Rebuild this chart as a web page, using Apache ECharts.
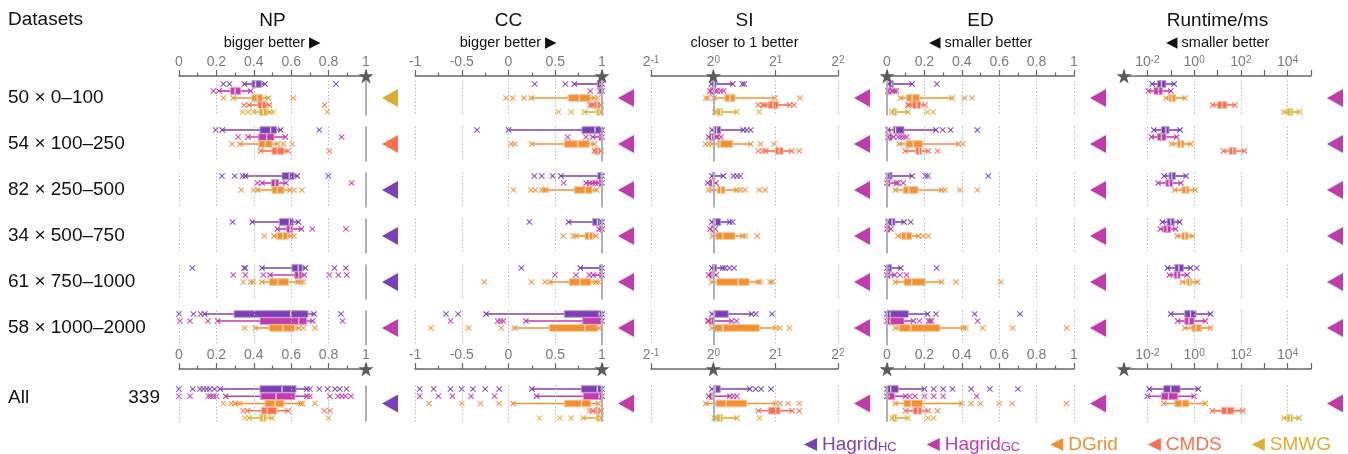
<!DOCTYPE html>
<html><head><meta charset="utf-8">
<script src="https://cdn.jsdelivr.net/npm/echarts@6/dist/echarts.min.js"></script>
<style>html,body{margin:0;padding:0;background:#fff}#c{width:1348px;height:454px}</style>
</head><body><div id="c"></div>
<script>
// ---------- categories ----------
const ROWS = ['50 × 0–100', '54 × 100–250', '82 × 250–500', '34 × 500–750', '61 × 750–1000', '58 × 1000–2000'];
const ALL_LABEL = 'All';
const ALL_COUNT = '339';
const METHODS = ['Hagrid_HC', 'Hagrid_GC', 'DGrid', 'CMDS', 'SMWG'];
const COLORS = ['#7b3fb6', '#c23bab', '#f39132', '#ff6e4c', '#dfae2e'];

// ---------- tick labels / gridline ticks ----------
const NP_TICKS = [0, 0.2, 0.4, 0.6, 0.8];
const CC_TICKS = [-1, -0.5, 0, 0.5];
const SI_TICKS = [0.5, 2, 4];
const ED_TICKS = [0.2, 0.4, 0.6, 0.8, 1];
const RT_TICKS = [0.01, 1, 100, 10000];

// best method per row (index into METHODS), rows 1..6 then All
const BEST_NP = [4, 3, 0, 0, 0, 1, 0];
const BEST_CC = [1, 1, 1, 1, 1, 1, 1];
const BEST_SI = [1, 1, 1, 1, 1, 1, 1];
const BEST_ED = [1, 1, 1, 1, 1, 1, 1];
const BEST_RT = [1, 1, 1, 1, 1, 1, 1];

// ---------- NP: [whiskerLow, q1, median, q3, whiskerHigh] per row (6 rows + All) ----------
const NP_BOX_HC = [[0.35,0.39,0.41,0.44,0.46],[0.232,0.433,0.49,0.522,0.544],[0.355,0.551,0.59,0.615,0.633],[0.392,0.537,0.59,0.611,0.638],[0.444,0.604,0.638,0.658,0.676],[0.137,0.294,0.597,0.69,0.722],[0.22,0.433,0.551,0.626,0.684]];
const NP_OUT_HC = [[0.237,0.27,0.84],[0.196,0.75],[0.23,0.298,0.34,0.799],[0.287],[0.071,0.348,0.355,0.831,0.893],[0.0,0.077,0.116,0.866],[0.0,0.073,0.112,0.13,0.148,0.165,0.19,0.7,0.75,0.795,0.834,0.86,0.896]];
const NP_BOX_GC = [[0.214,0.276,0.30,0.33,0.383],[0.369,0.426,0.469,0.508,0.569],[0.444,0.494,0.515,0.533,0.572],[0.526,0.576,0.594,0.608,0.654],[0.487,0.619,0.64,0.654,0.67],[0.207,0.433,0.64,0.683,0.715],[0.25,0.437,0.519,0.62,0.684]];
const NP_OUT_GC = [[0.184],[0.316,0.87],[0.419,0.923],[0.713,0.893],[0.29,0.355,0.451,0.804,0.852,0.897],[0.005,0.059,0.155,0.875],[0.0,0.059,0.157,0.17,0.185,0.2,0.7,0.807,0.85,0.87,0.89,0.92]];
const NP_BOX_DG = [[0.29,0.39,0.419,0.446,0.478],[0.326,0.426,0.462,0.497,0.526],[0.42,0.497,0.526,0.561,0.594],[0.508,0.526,0.554,0.579,0.597],[0.444,0.483,0.528,0.586,0.636],[0.408,0.483,0.558,0.619,0.642],[0.3,0.46,0.513,0.561,0.65]];
const NP_OUT_DG = [[0.237,0.611],[0.283,0.558,0.606],[0.333,0.40,0.615,0.658],[0.456,0.615],[0.344,0.383,0.397,0.651,0.665],[0.351,0.665,0.727],[0.237,0.28,0.3,0.325,0.66,0.727]];
const NP_BOX_CM = [[0.374,0.422,0.444,0.465,0.483],[0.437,0.497,0.526,0.561,0.583],null,null,null,null,[0.365,0.442,0.472,0.522,0.583]];
const NP_OUT_CM = [[0.348,0.779],[0.804],[],[],[],[],[0.344,0.777,0.807]];
const NP_BOX_SM = [[0.40,0.43,0.45,0.47,0.487],null,null,null,null,null,[0.376,0.433,0.45,0.465,0.497]];
const NP_OUT_SM = [[0.34,0.37,0.504,0.793],[],[],[],[],[],[0.353,0.8]];

// ---------- CC ----------
const CC_BOX_HC = [[0.704,0.95,0.98,0.99,1.0],[0.0,0.786,0.925,0.98,1.0],[0.561,0.954,0.985,1.0,1.0],[0.643,0.9,0.95,0.971,1.0],[0.768,0.98,0.99,1.0,1.0],[-0.24,0.597,0.97,0.982,1.0],[0.25,0.78,0.95,0.985,1.0]];
const CC_OUT_HC = [[0.28,0.608],[-0.337],[0.276,0.355,0.472],[0.223],[0.137],[-0.668,-0.54],[-0.95,-0.8,-0.62,-0.5,-0.38,-0.25,-0.1]];
const CC_BOX_GC = [[0.98,0.985,0.995,1.0,1.0],[0.9,0.97,0.99,1.0,1.0],[0.83,0.97,0.99,1.0,1.0],[0.97,0.98,0.99,1.0,1.0],[0.907,0.98,0.99,1.0,1.0],[0.187,0.793,0.99,1.0,1.0],[0.3,0.8,0.97,1.0,1.0]];
const CC_OUT_GC = [[0.875],[0.633,0.829],[0.59,0.87,0.9,0.93,0.96],[],[0.497,0.722,0.865],[-0.619,-0.116,-0.085,-0.055],[-0.95,-0.75,-0.6,-0.4,-0.15]];
const CC_BOX_DG = [[0.244,0.643,0.758,0.875,0.918],[0.248,0.597,0.74,0.864,0.918],[0.401,0.708,0.822,0.893,0.943],[0.722,0.818,0.864,0.9,0.936],[0.444,0.651,0.765,0.882,0.936],[0.062,0.437,0.815,0.947,0.97],[0.05,0.6,0.78,0.88,0.96]];
const CC_OUT_DG = [[-0.027,0.045,0.166,0.953],[0.03,0.066],[0.052,0.24,0.287,0.358,0.383],[0.586,0.693],[-0.258,0.244,0.39,0.965],[-0.829,-0.426,-0.077],[-0.85,-0.5,-0.3,-0.1]];
const CC_BOX_CM = [[0.89,0.918,0.945,0.97,0.99],[0.918,0.929,0.955,0.97,0.99],null,null,null,null,[0.9,0.93,0.95,0.97,0.99]];
const CC_OUT_CM = [[0.87,0.905],[0.94],[],[],[],[],[0.87]];
const CC_BOX_SM = [[0.815,0.943,0.97,0.979,0.99],null,null,null,null,null,[0.8,0.94,0.97,0.98,0.99]];
const CC_OUT_SM = [[0.533,0.672],[],[],[],[],[],[0.33,0.55,0.67]];

// ---------- SI ----------
const SI_BOX_HC = [[0.98,0.99,1.01,1.03,1.24],[0.985,1.0,1.038,1.085,1.395],[0.985,0.99,1.0,1.018,1.117],[0.985,0.995,1.02,1.085,1.2],[0.985,0.99,1.005,1.038,1.11],[0.985,1.0,1.015,1.18,1.53],[0.985,1.0,1.02,1.08,1.5]];
const SI_OUT_HC = [[1.38,1.41],[1.448,1.515],[1.25,1.3,1.35],[1.24],[1.14,1.195,1.26],[1.605,1.92],[1.6,1.7,1.9]];
const SI_BOX_GC = [[0.964,0.964,0.985,1.0,1.02],[0.95,0.957,0.98,1.0,1.03],[0.94,0.96,0.99,1.01,1.03],[0.965,0.975,0.99,1.0,1.02],[0.95,0.96,0.985,1.0,1.03],[0.95,0.955,0.975,1.0,1.226],[0.95,0.96,0.985,1.0,1.2]];
const SI_OUT_GC = [[1.045,1.085,1.12],[1.05,1.09],[],[],[],[0.94,1.296],[1.25,1.3]];
const SI_BOX_DG = [[1.007,1.138,1.203,1.272,1.98],[0.985,1.05,1.077,1.24,1.515],[0.985,1.045,1.085,1.138,1.296],[0.99,1.03,1.11,1.272,1.385],[0.985,1.037,1.32,1.49,1.647],[0.985,1.007,1.11,1.667,2.0],[0.92,1.03,1.15,1.45,2.0]];
const SI_OUT_DG = [[0.92,0.94,2.62],[0.915,0.95,1.69,1.97],[0.95,1.35,1.42,1.667,1.78],[1.427,1.63],[1.69,1.88,1.93],[2.1,2.33],[2.1,2.3,2.6]];
const SI_BOX_CM = [[1.76,1.84,1.945,2.056,2.34],[1.79,2.0,2.08,2.17,2.39],null,null,null,null,[1.65,1.85,2.0,2.1,2.4]];
const SI_OUT_CM = [[1.647,1.729,2.45],[1.647,1.74,2.6],[],[],[],[],[2.6]];
const SI_BOX_SM = [[1.014,1.045,1.085,1.11,1.296],null,null,null,null,null,[1.01,1.04,1.08,1.11,1.3]];
const SI_OUT_SM = [[1.667],[],[],[],[],[],[1.67]];

// ---------- ED ----------
const ED_BOX_HC = [[0.01,0.012,0.025,0.034,0.134],[0.005,0.034,0.046,0.091,0.262],[0.005,0.008,0.015,0.027,0.134],[0.005,0.01,0.027,0.043,0.091],[0.0,0.005,0.01,0.025,0.073],[0.0,0.002,0.016,0.114,0.217],[0.0,0.005,0.02,0.06,0.2]];
const ED_OUT_HC = [[0.267],[0.298,0.34,0.483],[0.205,0.219,0.542],[0.127],[0.266],[0.262,0.469,0.711],[0.25,0.3,0.35,0.45,0.55,0.7]];
const ED_BOX_GC = [[0.005,0.008,0.015,0.022,0.03],[0.005,0.008,0.012,0.025,0.035],[0.0,0.002,0.008,0.016,0.05],[0.0,0.002,0.006,0.012,0.02],[0.0,0.002,0.008,0.016,0.04],[0.0,0.002,0.016,0.091,0.141],[0.0,0.003,0.01,0.04,0.1]];
const ED_OUT_GC = [[0.04,0.05],[0.06,0.075,0.09,0.105],[0.06,0.087],[],[0.07,0.105],[0.173,0.221,0.23,0.239,0.485],[0.12,0.15,0.2,0.25,0.3,0.48]];
const ED_BOX_DG = [[0.073,0.105,0.134,0.173,0.348],[0.066,0.102,0.141,0.19,0.381],[0.045,0.087,0.116,0.166,0.292],[0.059,0.078,0.102,0.132,0.168],[0.045,0.091,0.132,0.205,0.292],[0.045,0.066,0.127,0.283,0.408],[0.045,0.09,0.13,0.19,0.4]];
const ED_OUT_DG = [[0.415,0.455],[0.405],[0.31,0.39,0.483],[0.194,0.221],[0.369,0.608],[0.422,0.512,0.672,0.961],[0.45,0.5,0.6,0.67,0.96]];
const ED_BOX_CM = [[0.112,0.137,0.159,0.18,0.203],[0.098,0.155,0.173,0.185,0.221],null,null,null,null,[0.1,0.14,0.165,0.185,0.22]];
const ED_OUT_CM = [[0.12],[0.27],[],[],[],[],[0.27]];
const ED_BOX_SM = [[0.027,0.03,0.04,0.052,0.112],null,null,null,null,null,[0.027,0.03,0.04,0.052,0.11]];
const ED_OUT_SM = [[0.216,0.248],[],[],[],[],[],[0.22,0.25]];

// ---------- Runtime (ms) ----------
const RT_BOX_HC = [[0.016,0.027,0.04,0.062,0.14],[0.019,0.04,0.062,0.085,0.25],[0.052,0.085,0.11,0.16,0.45],[0.044,0.07,0.1,0.14,0.24],[0.072,0.15,0.22,0.35,0.7],[0.1,0.4,0.7,1.2,5],[0.012,0.05,0.1,0.25,1.5]];
const RT_OUT_HC = [[],[],[],[],[1.3],[],[]];
const RT_BOX_GC = [[0.011,0.019,0.03,0.044,0.1],[0.015,0.027,0.04,0.062,0.18],[0.029,0.062,0.085,0.12,0.27],[0.036,0.05,0.07,0.1,0.16],[0.088,0.14,0.19,0.25,0.5],[0.2,0.4,0.6,1.0,3],[0.01,0.04,0.08,0.2,1]];
const RT_OUT_GC = [[],[],[],[],[],[],[]];
const RT_BOX_DG = [[0.062,0.085,0.11,0.16,0.4],[0.11,0.19,0.27,0.37,0.72],[0.15,0.3,0.45,0.6,1.1],[0.19,0.3,0.4,0.55,0.85],[0.32,0.5,0.65,0.8,1.4],[0.4,0.8,1.2,2,5],[0.05,0.15,0.3,0.6,3]];
const RT_OUT_DG = [[],[],[],[],[],[],[]];
const RT_BOX_CM = [[6.2,10,16,25,55],[18,32,45,62,140],null,null,null,null,[6,15,25,50,120]];
const RT_OUT_CM = [[],[],[],[],[],[],[]];
const RT_BOX_SM = [[7200,10000,13000,16000,32000],null,null,null,null,null,[7000,10000,13000,16000,30000]];
const RT_OUT_SM = [[],[],[],[],[],[],[]];

// ---------- assemble ----------
const FONT = '"Liberation Sans", Arial, Helvetica, sans-serif';
const METRICS = [
  {name:'NP', sub:'bigger better ▶', left:179, min:0, max:1, interval:0.2, target:1, ticks:NP_TICKS, best:BEST_NP,
   box:[NP_BOX_HC,NP_BOX_GC,NP_BOX_DG,NP_BOX_CM,NP_BOX_SM], out:[NP_OUT_HC,NP_OUT_GC,NP_OUT_DG,NP_OUT_CM,NP_OUT_SM]},
  {name:'CC', sub:'bigger better ▶', left:415, min:-1, max:1, interval:0.5, target:1, ticks:CC_TICKS, best:BEST_CC,
   box:[CC_BOX_HC,CC_BOX_GC,CC_BOX_DG,CC_BOX_CM,CC_BOX_SM], out:[CC_OUT_HC,CC_OUT_GC,CC_OUT_DG,CC_OUT_CM,CC_OUT_SM]},
  {name:'SI', sub:'closer to 1 better', left:651, log:true, base:2, min:0.5, max:4, target:1, ticks:SI_TICKS, best:BEST_SI,
   box:[SI_BOX_HC,SI_BOX_GC,SI_BOX_DG,SI_BOX_CM,SI_BOX_SM], out:[SI_OUT_HC,SI_OUT_GC,SI_OUT_DG,SI_OUT_CM,SI_OUT_SM]},
  {name:'ED', sub:'◀ smaller better', left:887, min:0, max:1, interval:0.2, target:0, ticks:ED_TICKS, best:BEST_ED,
   box:[ED_BOX_HC,ED_BOX_GC,ED_BOX_DG,ED_BOX_CM,ED_BOX_SM], out:[ED_OUT_HC,ED_OUT_GC,ED_OUT_DG,ED_OUT_CM,ED_OUT_SM]},
  {name:'Runtime/ms', sub:'◀ smaller better', left:1124, log:true, base:10, min:0.001, max:100000, target:0.001, ticks:RT_TICKS, best:BEST_RT,
   box:[RT_BOX_HC,RT_BOX_GC,RT_BOX_DG,RT_BOX_CM,RT_BOX_SM], out:[RT_OUT_HC,RT_OUT_GC,RT_OUT_DG,RT_OUT_CM,RT_OUT_SM]}
];
const COL_W = 187;
const ROW_FIRST = [84, 130, 176, 222, 268, 314, 389];  // centre of the first slot in each row panel
const ROW_STEP = [7, 7, 7, 7, 7, 7, 7.25];
const AXIS_Y = [76, 369];
const STAR = 'path://M50,0 L61.8,35.3 L98.9,35.3 L68.9,57.1 L80.4,92.4 L50,70.6 L19.6,92.4 L31.1,57.1 L1.1,35.3 L38.2,35.3 Z';

function lighten(hex, t) {
  const n = parseInt(hex.slice(1), 16);
  const r = n >> 16, g = (n >> 8) & 255, b = n & 255;
  const f = v => Math.round(v + (255 - v) * t);
  return 'rgb(' + f(r) + ',' + f(g) + ',' + f(b) + ')';
}
function xMark(x, y, c, op) {
  const s = 2.7;
  const st = {stroke:c, lineWidth:1.2, opacity:op};
  return {type:'group', children:[
    {type:'line', shape:{x1:x-s,y1:y-s,x2:x+s,y2:y+s}, style:st},
    {type:'line', shape:{x1:x-s,y1:y+s,x2:x+s,y2:y-s}, style:st}
  ]};
}
function renderBox(params, api) {
  const idx = api.value(5);
  const c = COLORS[idx];
  const xs = [0,1,2,3,4].map(i => api.coord([api.value(i), idx])[0]);
  const y = api.coord([api.value(0), idx])[1];
  const h = 3.3;
  return {type:'group', children:[
    {type:'line', shape:{x1:xs[0],y1:y,x2:xs[4],y2:y}, style:{stroke:c, lineWidth:1.6}},
    {type:'rect', shape:{x:xs[1], y:y-h, width:Math.max(xs[3]-xs[1], 1.5), height:2*h}, style:{fill:c, stroke:lighten(c, 0.45), lineWidth:1}},
    {type:'line', shape:{x1:xs[2],y1:y-h+0.5,x2:xs[2],y2:y+h-0.5}, style:{stroke:'#ffffff', lineWidth:1.2, opacity:0.85}},
    xMark(xs[0], y, c, 1), xMark(xs[4], y, c, 1)
  ]};
}
function renderOut(params, api) {
  const idx = api.value(1);
  const p = api.coord([api.value(0), idx]);
  return xMark(p[0], p[1], COLORS[idx], 0.85);
}
function axisScale(m) {
  return m.log ? {type:'log', logBase:m.base, min:m.min, max:m.max}
               : {type:'value', min:m.min, max:m.max, interval:m.interval};
}
function labelFmt(m) {
  if (m.log) {
    return v => {
      const e = Math.round(Math.log(v) / Math.log(m.base));
      if (m.base === 10 && e % 2 !== 0) return '';
      return '{b|' + m.base + '}{e|' + e + '}';
    };
  }
  return v => String(+(+v).toFixed(2));
}

const grids = [], xAxes = [], yAxes = [], series = [];
function addGrid(g, xa, ya) {
  const i = grids.length;
  grids.push(Object.assign({containLabel:false, outerBoundsMode:'none'}, g));
  xAxes.push(Object.assign({gridIndex:i}, xa));
  yAxes.push(Object.assign({gridIndex:i}, ya));
  return i;
}

METRICS.forEach((m) => {
  AXIS_Y.forEach(ay => {
    const gi = addGrid({left:m.left, width:COL_W, top:ay, height:1},
      Object.assign(axisScale(m), {
        position:'top', show:true,
        axisLine:{show:true, onZero:false, lineStyle:{color:'#666', width:1.5}},
        axisTick:{show:true, length:6, lineStyle:{color:'#666', width:1.2}},
        minorTick:{show:!m.log, splitNumber:2, length:3.5, lineStyle:{color:'#666', width:1.2}},
        splitLine:{show:false},
        axisLabel:{show:true, showMinLabel:true, showMaxLabel:true, margin:7, color:'#7a7a7a', fontSize:14, fontFamily:FONT,
          formatter:labelFmt(m),
          rich:{b:{fontSize:14, color:'#7a7a7a', fontFamily:FONT, lineHeight:14, verticalAlign:'bottom'},
                e:{fontSize:10, color:'#7a7a7a', fontFamily:FONT, lineHeight:10, verticalAlign:'top', padding:[0,0,6,0]}}}
      }),
      {type:'value', min:0, max:1, show:false});
    series.push({type:'scatter', xAxisIndex:gi, yAxisIndex:gi, data:[[m.target, 1]], symbol:STAR, symbolSize:15,
      itemStyle:{color:'#5b5b5b', opacity:1}, clip:false, silent:true, z:6});
  });
  ROW_FIRST.forEach((y0, r) => {
    const step = ROW_STEP[r];
    const gi = addGrid({left:m.left, width:COL_W, top:y0 - step/2, height:step*5},
      Object.assign(axisScale(m), {show:false}),
      {type:'value', min:-0.5, max:4.5, inverse:true, show:false});
    const boxes = [], outs = [];
    for (let k = 0; k < 5; k++) {
      const b = m.box[k][r];
      if (b) boxes.push(b.concat([k]));
      (m.out[k][r] || []).forEach(v => outs.push([v, k]));
    }
    const lines = m.ticks.map(v => ({xAxis:v, lineStyle:{color:'#b9b9b9', type:[1.5,2], width:1}}));
    lines.push({xAxis:m.target, lineStyle:{color:'#b0b0b0', type:'solid', width:2}});
    series.push({type:'scatter', xAxisIndex:gi, yAxisIndex:gi, data:[], symbolSize:0, silent:true,
      markLine:{silent:true, symbol:'none', label:{show:false}, animation:false, data:lines}});
    series.push({type:'custom', xAxisIndex:gi, yAxisIndex:gi, data:outs, encode:{x:0, y:1},
      renderItem:renderOut, silent:true, z:2});
    series.push({type:'custom', xAxisIndex:gi, yAxisIndex:gi, data:boxes, encode:{x:[0,1,2,3,4], y:5},
      renderItem:renderBox, silent:true, z:3});
    series.push({type:'scatter', xAxisIndex:gi, yAxisIndex:gi, data:[[m.max, 2]], symbol:'triangle', symbolRotate:90,
      symbolSize:[18, 16], symbolOffset:[24, 0], itemStyle:{color:COLORS[m.best[r]], opacity:1}, clip:false, silent:true, z:4});
  });
});

METHODS.forEach((name, k) => {
  series.push({type:'scatter', name, xAxisIndex:0, yAxisIndex:0, data:[], itemStyle:{color:COLORS[k], opacity:1}});
});

const graphic = [];
const T_FONT = '19px ' + FONT;
graphic.push({type:'text', x:8, y:20, style:{text:'Datasets', font:T_FONT, fill:'#111', verticalAlign:'middle'}});
METRICS.forEach(m => {
  const cx = m.left + COL_W / 2;
  graphic.push({type:'text', x:cx, y:21, style:{text:m.name, font:T_FONT, fill:'#111', align:'center', verticalAlign:'middle'}});
  graphic.push({type:'text', x:cx, y:43, style:{text:m.sub, font:'14.5px ' + FONT, fill:'#111', align:'center', verticalAlign:'middle'}});
});
ROWS.forEach((lab, r) => {
  graphic.push({type:'text', x:8, y:ROW_FIRST[r] + 2*ROW_STEP[r], style:{text:lab, font:T_FONT, fill:'#111', verticalAlign:'middle'}});
});
graphic.push({type:'text', x:8, y:398, style:{text:ALL_LABEL, font:T_FONT, fill:'#111', verticalAlign:'middle'}});
graphic.push({type:'text', x:160, y:398, style:{text:ALL_COUNT, font:T_FONT, fill:'#111', align:'right', verticalAlign:'middle'}});

const option = {
  animation:false,
  backgroundColor:'#ffffff',
  textStyle:{fontFamily:FONT},
  grid:grids, xAxis:xAxes, yAxis:yAxes, series, graphic,
  legend:{
    right:12, top:428, itemWidth:13, itemHeight:15, itemGap:30,
    icon:'path://M0,5 L10,0 L10,10 Z',
    itemStyle:{opacity:1},
    data:METHODS.map((n, k) => ({name:n, textStyle:{color:COLORS[k]}})),
    formatter:name => {
      const i = name.indexOf('_');
      return i < 0 ? '{n|' + name + '}' : '{n|' + name.slice(0, i) + '}{s|' + name.slice(i + 1) + '}';
    },
    textStyle:{fontSize:19, fontFamily:FONT,
      rich:{n:{fontSize:19, fontFamily:FONT, lineHeight:19, verticalAlign:'top'},
            s:{fontSize:13, fontFamily:FONT, lineHeight:13, verticalAlign:'bottom', padding:[8,0,0,0]}}},
    selectedMode:false
  }
};
const chart = echarts.init(document.getElementById('c'));
chart.setOption(option);
</script>
</body></html>
